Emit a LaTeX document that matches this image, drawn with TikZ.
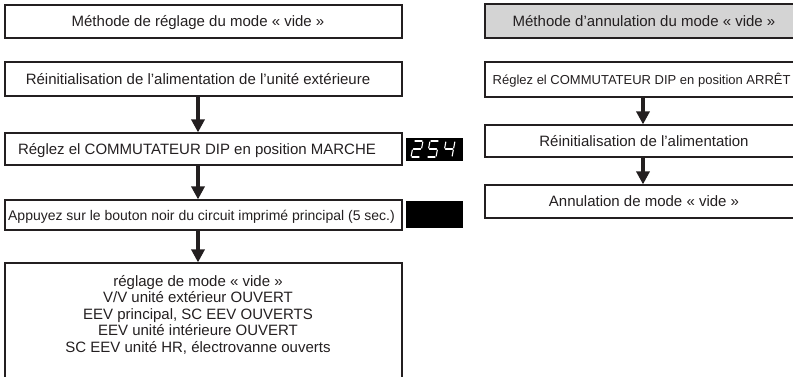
\documentclass[tikz,border=0pt]{standalone}
\usepackage{fontspec}
\setmainfont{Liberation Sans}
\usetikzlibrary{arrows.meta}
\definecolor{inkline}{HTML}{231F20}
\definecolor{headgray}{HTML}{D4D4D4}
\tikzset{
  box/.style={draw=inkline, line width=1.2pt, rectangle, inner sep=0pt},
  txt/.style={inner sep=0pt, text=inkline, text height=10.8pt, text depth=0pt,
    font=\fontsize{15}{16.5}\selectfont},
  flow/.style={draw=inkline, line width=3.5pt, -{Triangle[width=13pt,length=13pt]}},
  seg/.style={draw=white, line width=1.1pt, line cap=round,
    shorten >=1pt, shorten <=1pt}
}
\begin{document}
\begin{tikzpicture}[x=1pt, y=-1pt]
\useasboundingbox (0,0) rectangle (793,377);
\clip (0,0) rectangle (793,377);
\coordinate (axl) at (198,0);
\coordinate (axr) at (643,0);

\node[box, minimum width=397pt, minimum height=33pt] (l1) at (203.5,21.5){};
\node[txt] (lt1) at (198,21.5){Méthode de réglage du mode « vide »};
\node[box, minimum width=397pt, minimum height=34pt] (l2) at (203.5,79){};
\node[txt] (lt2) at (198,79){Réinitialisation de l’alimentation de l’unité extérieure};
\node[box, minimum width=397pt, minimum height=32pt] (l3) at (203.5,149){};
\node[txt] (lt3) at (197,149){Réglez el COMMUTATEUR DIP en position MARCHE};
\node[box, minimum width=397pt, minimum height=30pt] (l4) at (203.5,215){};
\node[txt, font=\fontsize{14}{16}\selectfont, text height=10pt] (lt4) at (201.5,215){Appuyez sur le bouton noir du circuit imprimé principal (5 sec.)};
\node[box, minimum width=397pt, minimum height=160pt] (l5) at (203.5,343){};
\node[txt, align=center, text height=, text depth=] (lt5) at (198,314.5){réglage de mode « vide »\\
  V/V unité extérieur OUVERT\\EEV principal, SC EEV OUVERTS\\
  EEV unité intérieure OUVERT\\SC EEV unité HR, électrovanne ouverts};
\draw[flow](l2.south -| axl) -- (l3.north -| axl);
\draw[flow](l3.south -| axl) -- (l4.north -| axl);
\draw[flow](l4.south -| axl) -- (l5.north -| axl);

\node[fill=black, inner sep=0pt, minimum width=57pt, minimum height=23pt] (disp) at (434.5,149.5){};
\node[fill=black, inner sep=0pt, minimum width=57pt, minimum height=27pt] (bouton) at (434.5,214.5){};
\foreach \k/\dx in {0/411,1/427,2/443}{
  \coordinate (sgtl\k) at (\dx+3,141);
  \coordinate (sgtr\k) at (\dx+12,141);
  \coordinate (sgml\k) at (\dx+1.5,149);
  \coordinate (sgmr\k) at (\dx+10.5,149);
  \coordinate (sgbl\k) at (\dx,157);
  \coordinate (sgbr\k) at (\dx+9,157);
}
\foreach \a/\b in {sgtl0/sgtr0, sgtr0/sgmr0, sgmr0/sgml0, sgml0/sgbl0, sgbl0/sgbr0,
  sgtl1/sgtr1, sgtl1/sgml1, sgml1/sgmr1, sgmr1/sgbr1, sgbl1/sgbr1,
  sgtl2/sgml2, sgml2/sgmr2, sgtr2/sgmr2, sgmr2/sgbr2}
  \draw[seg] (\a) -- (\b);

\node[box, fill=headgray, minimum width=318pt, minimum height=34pt] (r1) at (644,21){};
\node[txt] (rt1) at (644,21){Méthode d’annulation du mode « vide »};
\node[box, minimum width=318pt, minimum height=35pt] (r2) at (644,79.5){};
\node[txt, anchor=west, font=\fontsize{13}{15}\selectfont, text height=9.4pt] (rt2) at (492.5,79.5){Réglez el COMMUTATEUR DIP en position ARRÊT};
\node[box, minimum width=318pt, minimum height=32pt] (r3) at (644,141){};
\node[txt] (rt3) at (644,141){Réinitialisation de l’alimentation};
\node[box, minimum width=318pt, minimum height=33pt] (r4) at (644,201.5){};
\node[txt] (rt4) at (644,201.5){Annulation de mode « vide »};
\draw[flow](r2.south -| axr) -- (r3.north -| axr);
\draw[flow](r3.south -| axr) -- (r4.north -| axr);
\end{tikzpicture}
\end{document}
